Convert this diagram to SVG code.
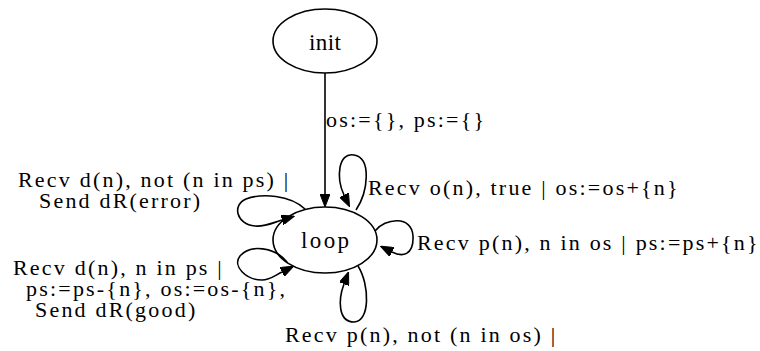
<svg xmlns="http://www.w3.org/2000/svg" width="760" height="351" viewBox="0 0 760 351">
<style>
.node ellipse{fill:none;stroke:#000;stroke-width:1.6}
.edge{fill:none;stroke:#000;stroke-width:1.6;marker-end:url(#ah)}
</style>
<defs>
<marker id="ah" markerUnits="userSpaceOnUse" viewBox="0 0 13 10" markerWidth="13" markerHeight="10" refX="0" refY="5" orient="auto">
<path d="M0,0 L13,5 L0,10 z" fill="#000" stroke="#000" stroke-width="1"/>
</marker>
</defs>
<rect width="760" height="351" fill="#fff"/>
<g id="init" class="node" font-family="Liberation Serif, serif" font-size="23" text-anchor="middle">
<ellipse cx="325" cy="41" rx="52" ry="32"/>
<text x="325" y="50" textLength="32" lengthAdjust="spacing">init</text>
</g>
<g id="loop" class="node" font-family="Liberation Serif, serif" font-size="23" text-anchor="middle">
<ellipse cx="325" cy="240" rx="52" ry="33"/>
<text x="325" y="248" textLength="48" lengthAdjust="spacing">loop</text>
</g>
<g id="connectors">
<path class="edge" d="M325,73 L325,194"/>
<path class="edge" d="M356,210 C368,192 372,158 354,155 C338,152 336,178 344,195"/>
<path class="edge" d="M375,231 C385,218 412,215 413,236 C414,256 402,257 392,252"/>
<path class="edge" d="M358,266 C370,285 370,322 354,322 C338,322 338,300 344,284"/>
<path class="edge" d="M305,209 C290,195 262,193 246,199 C232,205 236,224 255,226 C265,227 272,223 282,220"/>
<path class="edge" d="M287,262 C275,247 250,244 240,256 C232,266 246,280 262,280 C270,280 274,276 282,272"/>
</g>
<g id="labels" font-family="Liberation Serif, serif" font-size="22" letter-spacing="2.2">
<text x="326" y="127">os:={}, ps:={}</text>
<text x="368" y="195">Recv o(n), true | os:=os+{n}</text>
<text x="417" y="250">Recv p(n), n in os | ps:=ps+{n}</text>
<text x="18" y="187">Recv d(n), not (n in ps) |</text>
<text x="39" y="208">Send dR(error)</text>
<text x="13" y="275">Recv d(n), n in ps |</text>
<text x="26" y="296">ps:=ps-{n}, os:=os-{n},</text>
<text x="35" y="317">Send dR(good)</text>
<text x="285" y="342">Recv p(n), not (n in os) |</text>
</g>
</svg>
